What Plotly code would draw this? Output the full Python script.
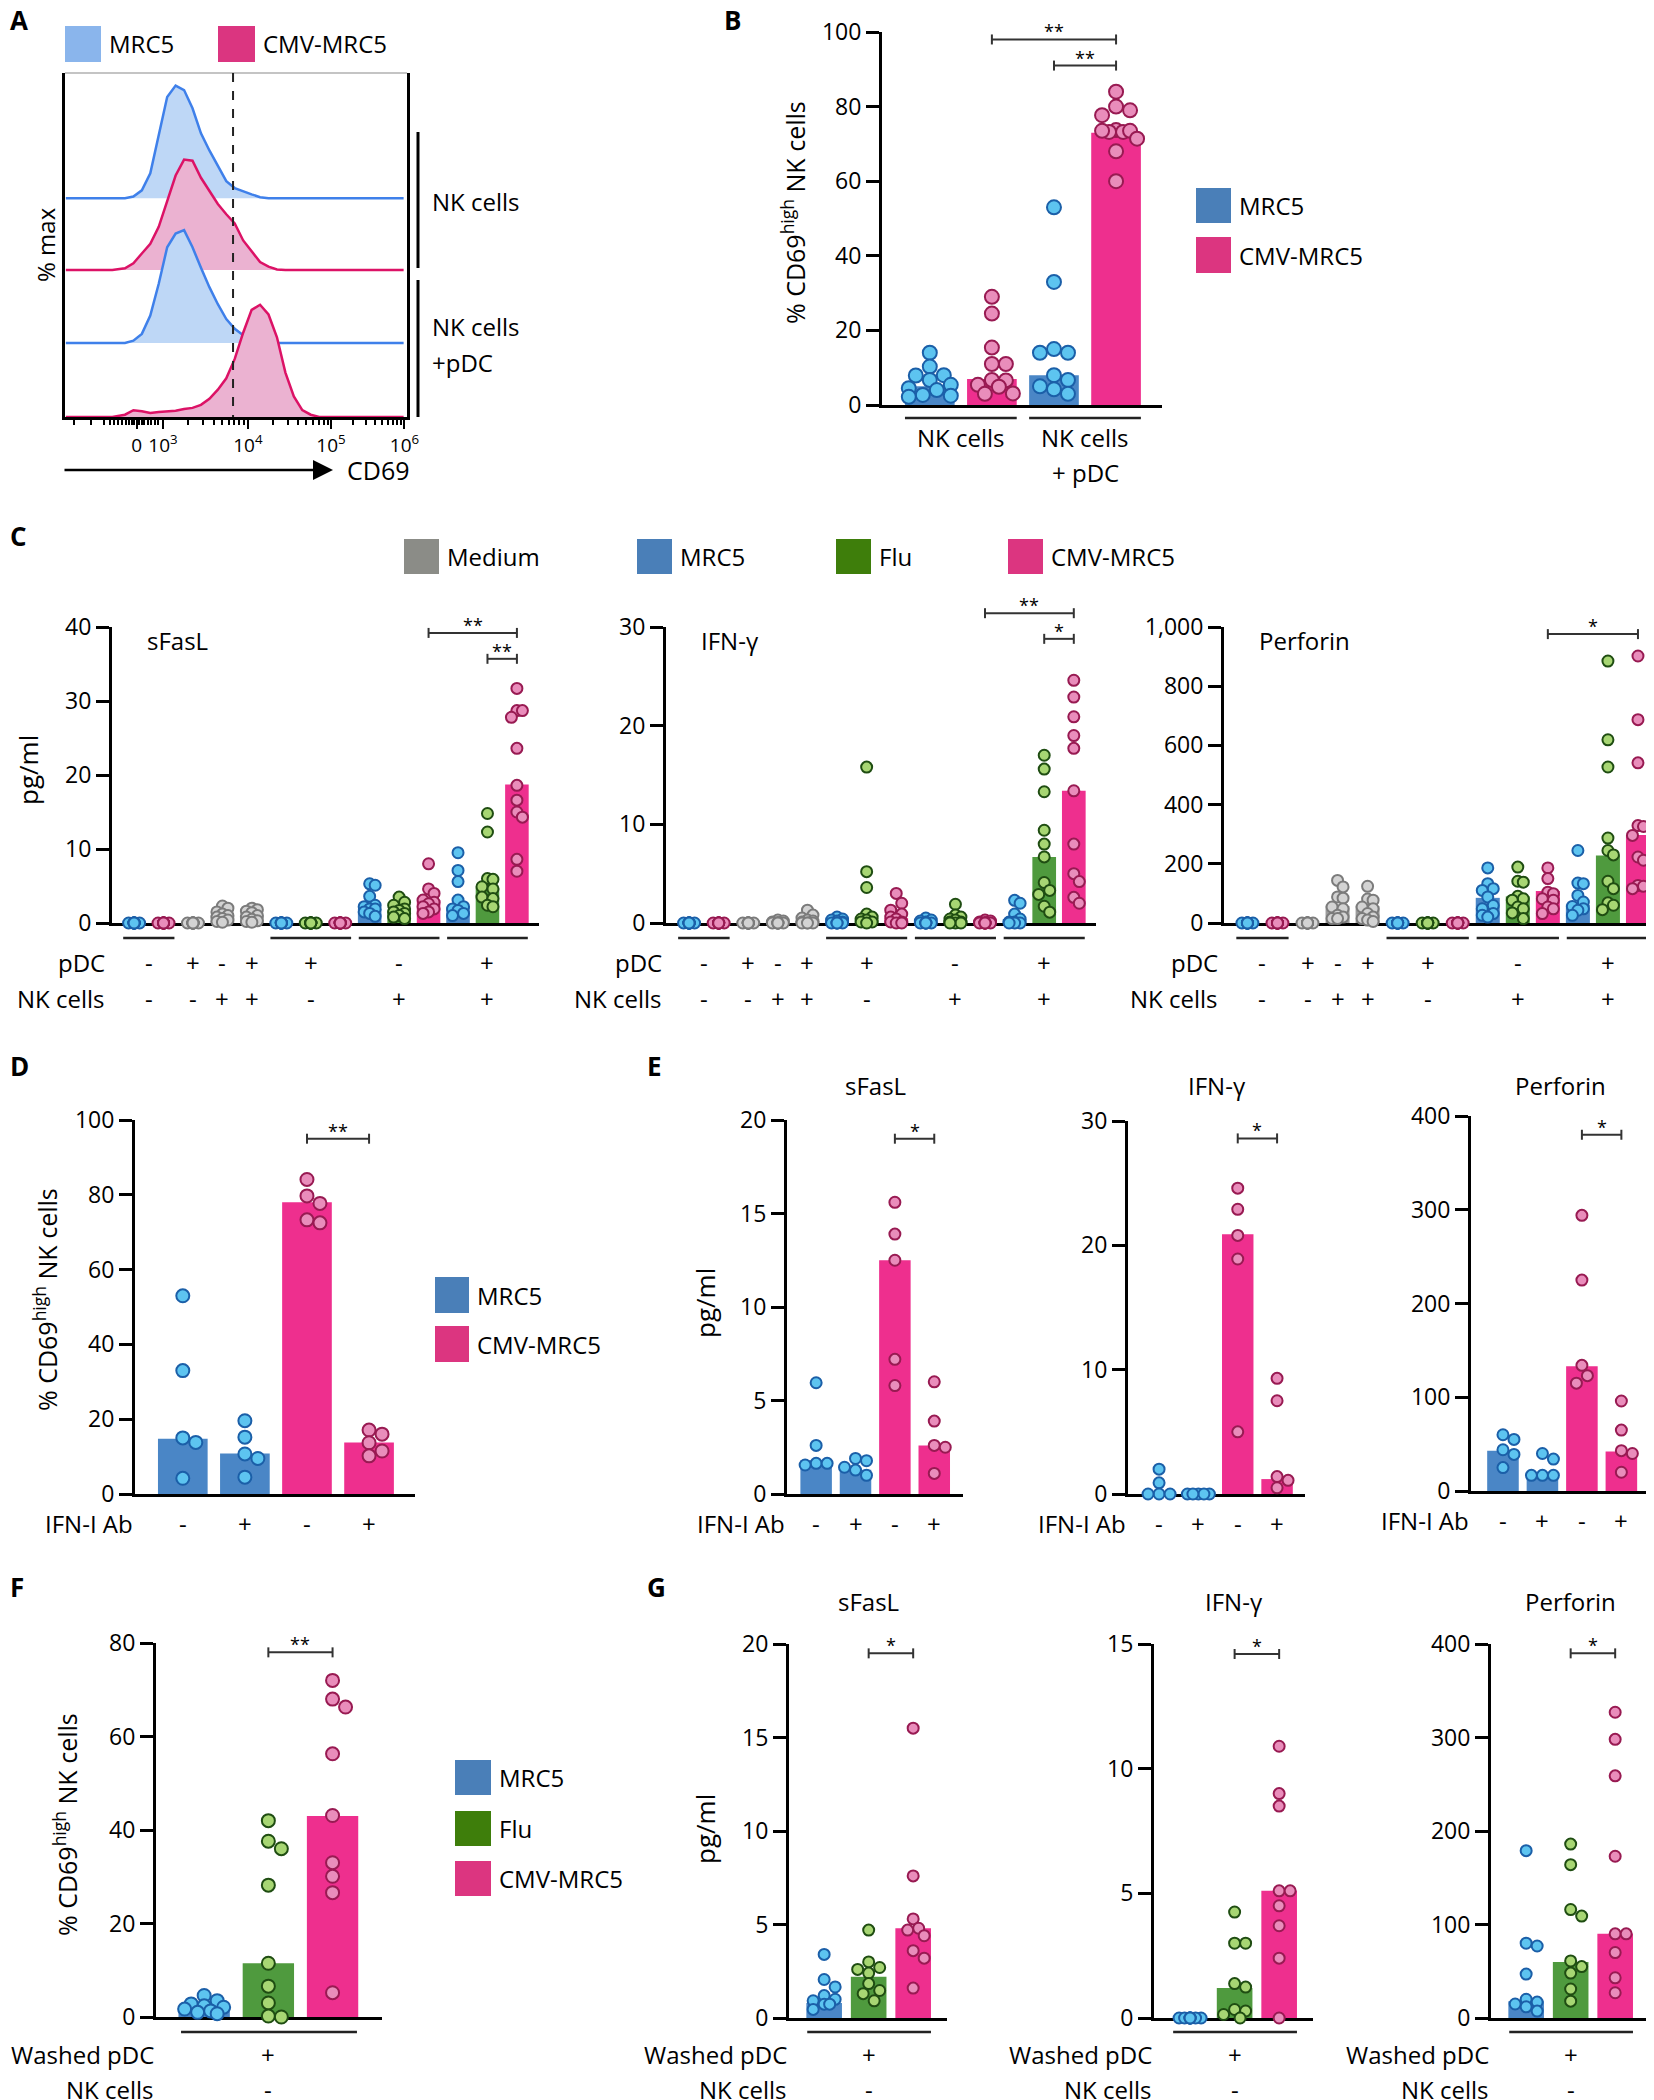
import math
import plotly.graph_objects as go

W, H = 1654, 2100
OX, OY = 8, 8          # page body margin: figure starts 8px in
FONT = "Open Sans"

# ---------------- data ----------------
# A: CD69 histograms (x in display decades: 3 -> 10^3), heights in % of max
a_x = [1.85, 2.4, 2.55, 2.65, 2.75, 2.85, 2.95, 3.05, 3.15, 3.25, 3.35, 3.45, 3.55, 3.65,
       3.75, 3.85, 3.95, 4.05, 4.15, 4.25, 4.35, 4.45, 4.55, 4.65, 4.75, 4.85, 5.0, 5.85]
a_nk_mrc5 = [0, 0, 0, 1.5, 7, 22, 57, 89, 99, 95, 79, 57, 42, 28, 15, 9, 6, 3.5, 1, 0, 0, 0, 0, 0, 0, 0, 0, 0]
a_nk_cmv = [0, 0, 1.5, 6, 14.5, 23, 38, 61, 83, 97, 96, 81, 70, 58, 49, 41, 26, 16, 7, 3, 0.5, 0, 0, 0, 0, 0, 0, 0]
a_pdc_mrc5 = [0, 0, 0, 2, 8, 24, 52, 84, 96, 99, 84, 66, 49, 34, 21, 12.5, 6.7, 2.3, 0, 0, 0, 0, 0, 0, 0, 0, 0, 0]
a_pdc_cmv = [0, 0, 2, 6, 5, 3.5, 4.3, 5, 5.5, 7, 8, 10.7, 16, 24, 34, 51, 74, 94, 98.5, 90, 70, 39, 18, 6, 2, 0, 0, 0]
a_tickvals = [2.69, 3, 4.006, 4.99, 5.86]
a_ticktext = ["0", "10<sup>3</sup>", "10<sup>4</sup>", "10<sup>5</sup>", "10<sup>6</sup>"]

# B: % CD69high NK cells
b_kinds = ["MRC5", "CMV-MRC5", "MRC5", "CMV-MRC5"]
b_bars = [5, 7, 8, 73]
b_pts = [
    [14, 10.3, 8, 7.9, 6.7, 5.4, 4.5, 4, 2.7, 2.2, 2.5],
    [29, 24.5, 15.4, 11, 11, 6.7, 6.6, 5.4, 4.9, 3.1, 3],
    [53, 33, 15, 14, 14, 8, 6.7, 5, 4.2, 3],
    [84, 80, 79, 77.7, 73.7, 73.2, 73.2, 73.5, 73.5, 71.4, 68, 60],
]

# C: cytokines, 14 conditions
c_kinds = ["MRC5", "CMV-MRC5", "Medium", "Medium", "Medium", "MRC5", "Flu", "CMV-MRC5",
           "MRC5", "Flu", "CMV-MRC5", "MRC5", "Flu", "CMV-MRC5"]
c_sign_pos = [0.5, 2, 3, 4, 6, 9, 12]
c_pdc_signs = ["-", "+", "-", "+", "+", "-", "+"]
c_nk_signs = ["-", "-", "+", "+", "-", "+", "+"]
c_sfasl_bars = [0, 0, 0, 1, 1, 0, 0, 0, 1.9, 1.8, 3.1, 2.2, 4.8, 18.7]
c_sfasl = [
    [0, 0, 0, 0, 0, 0, 0, 0, 0, 0],
    [0, 0, 0, 0, 0, 0, 0, 0, 0, 0],
    [0, 0, 0, 0, 0, 0, 0, 0, 0, 0],
    [2.3, 2.0, 1.5, 1.2, 1.0, 0.8, 0.6, 0.4, 0.2, 0.1],
    [2.0, 1.8, 1.6, 1.4, 1.0, 0.8, 0.5, 0.3, 0.2, 0.1],
    [0, 0, 0, 0, 0, 0, 0, 0, 0, 0],
    [0, 0, 0, 0, 0, 0, 0, 0, 0, 0],
    [0, 0, 0, 0, 0, 0, 0, 0, 0, 0],
    [5.3, 5.1, 3.6, 2.4, 2.2, 1.9, 1.9, 1.5, 1.3, 0.9],
    [3.5, 2.8, 2.4, 1.9, 1.7, 1.5, 1.3, 1.0, 0.8, 0.6],
    [8.0, 4.6, 4.0, 3.1, 2.8, 2.6, 2.2, 1.9, 1.5, 1.3],
    [9.5, 7.1, 5.6, 3.1, 2.2, 1.9, 1.7, 1.3, 1.0],
    [14.8, 12.3, 6.0, 5.9, 4.9, 4.6, 3.5, 3.3, 2.4, 2.2],
    [31.7, 28.7, 28.7, 27.8, 23.6, 18.6, 16.6, 15.0, 14.3, 8.6, 7.0],
]
c_ifng_bars = [0, 0, 0, 0, 0.2, 0.1, 0.5, 0.5, 0.1, 0.3, 0.1, 0.4, 6.7, 13.4]
c_ifng = [
    [0, 0, 0, 0, 0, 0, 0, 0, 0, 0],
    [0, 0, 0, 0, 0, 0, 0, 0, 0, 0],
    [0, 0, 0, 0, 0, 0, 0, 0, 0, 0],
    [0.3, 0.2, 0.1, 0, 0, 0, 0, 0, 0, 0],
    [1.3, 0.8, 0.5, 0.3, 0.2, 0.1, 0, 0, 0, 0],
    [0.6, 0.4, 0.3, 0.2, 0.1, 0, 0, 0, 0, 0],
    [15.8, 5.2, 3.6, 0.9, 0.6, 0.4, 0.3, 0.1, 0.1, 0],
    [3.0, 2.0, 1.3, 0.9, 0.6, 0.4, 0.1, 0.1, 0, 0],
    [0.5, 0.3, 0.2, 0.1, 0, 0, 0, 0, 0, 0],
    [1.9, 0.8, 0.6, 0.4, 0.3, 0.1, 0.1, 0, 0, 0],
    [0.3, 0.2, 0.1, 0, 0, 0, 0, 0, 0, 0],
    [2.3, 2.0, 0.9, 0.4, 0.1, 0.1, 0, 0, 0],
    [17.0, 15.6, 13.3, 9.4, 8.0, 6.7, 4.1, 3.3, 2.9, 1.7, 1.1],
    [24.6, 22.9, 20.9, 19.0, 17.7, 13.4, 8.0, 5.0, 4.2, 2.6, 2.0],
]
c_perf_bars = [0, 0, 0, 57, 57, 0, 0, 0, 85, 90, 108, 62, 228, 297]
c_perf = [
    [0, 0, 0, 0, 0, 0, 0, 0, 0, 0],
    [0, 0, 0, 0, 0, 0, 0, 0, 0, 0],
    [0, 0, 0, 0, 0, 0, 0, 0, 0, 0],
    [144, 122, 88, 84, 54, 48, 26, 20, 15, 15],
    [124, 81, 77, 54, 48, 32, 20, 15, 10, 5],
    [0, 0, 0, 0, 0, 0, 0, 0, 0, 0],
    [0, 0, 0, 0, 0, 0, 0, 0, 0, 0],
    [0, 0, 0, 0, 0, 0, 0, 0, 0, 0],
    [186, 133, 116, 110, 88, 59, 48, 32, 26, 20],
    [189, 141, 138, 90, 82, 77, 54, 48, 34, 15],
    [186, 150, 104, 99, 82, 77, 54, 48, 32],
    [245, 135, 133, 93, 71, 56, 48, 43, 26],
    [885, 619, 527, 287, 245, 230, 141, 116, 68, 60, 45],
    [902, 687, 541, 329, 326, 296, 223, 212, 127, 124, 116],
]

# D / E: IFN-I antibody blocking
de_kinds = ["MRC5", "MRC5", "CMV-MRC5", "CMV-MRC5"]
de_signs = ["-", "+", "-", "+"]
d_bars = [14.8, 10.8, 78, 13.8]
d_pts = [[53, 33, 15, 13.8, 4.2], [19.6, 15.2, 10.7, 9.5, 4.5],
         [84.1, 79.7, 77.7, 73.3, 72.5], [17.1, 16.0, 13.7, 11.5, 10.2]]
e_sfasl_bars = [1.8, 1.3, 12.5, 2.6]
e_sfasl = [[5.95, 2.6, 1.64, 1.64, 1.55], [1.9, 1.78, 1.43, 1.28, 1.0],
           [15.6, 13.9, 12.5, 7.2, 5.8], [6.0, 3.9, 2.6, 2.5, 1.1]]
e_ifng_bars = [0, 0, 20.9, 1.2]
e_ifng = [[2.0, 0.9, 0, 0, 0], [0, 0, 0, 0, 0],
          [24.6, 22.9, 20.8, 18.9, 5.0], [9.3, 7.5, 1.4, 1.1, 0.5]]
e_perf_bars = [43, 18, 133, 42]
e_perf = [[60, 55, 44, 39, 25], [40, 34, 16.7, 16.7, 16.7],
          [294, 225, 134, 123, 115], [96, 65, 43, 40, 20]]

# F / G: washed pDC
fg_kinds = ["MRC5", "Flu", "CMV-MRC5"]
f_bars = [1.8, 11.5, 43]
f_pts = [[4.6, 3.5, 2.8, 2.4, 2.1, 1.7, 1.3, 1.0, 0.7],
         [42, 37.6, 36, 28.2, 11.5, 6.6, 3.0, 0.2, 0],
         [72, 68, 66.3, 56.3, 43.1, 33, 30.1, 26.6, 5.2]]
g_sfasl_bars = [0.8, 2.2, 4.8]
g_sfasl = [[3.4, 2.06, 1.66, 1.2, 1.0, 0.92, 0.74, 0.74, 0.46],
           [4.7, 3.0, 2.7, 2.6, 2.4, 1.84, 1.47, 1.3, 0.92],
           [15.5, 7.6, 5.3, 4.8, 4.7, 4.4, 3.6, 3.2, 1.6]]
g_ifng_bars = [0, 1.2, 5.1]
g_ifng = [[0, 0, 0, 0, 0, 0, 0, 0, 0],
          [4.25, 3.0, 3.0, 1.38, 1.24, 0.34, 0.28, 0.14, 0],
          [10.9, 9.0, 8.5, 5.1, 5.1, 4.5, 3.7, 2.4, 0]]
g_perf_bars = [18, 60, 90]
g_perf = [[179, 80, 77, 47, 20, 17, 15, 12, 7.4],
          [186, 164, 116, 109, 61, 55, 48, 31, 18],
          [327, 298, 259, 173, 90, 90, 70, 43, 27]]

# ---------------- styles ----------------
bar_col = {"MRC5": "#4a86c6", "CMV-MRC5": "#ee2f8e", "Flu": "#4f9a3e", "Medium": "#9b9b9b"}
dot_col = {"MRC5": "#5dc4f0", "CMV-MRC5": "#e98dbb", "Flu": "#a7d673", "Medium": "#d3d3d3"}
edge_col = {"MRC5": "#1b5fa8", "CMV-MRC5": "#981a52", "Flu": "#1f4d12", "Medium": "#7b7b7b"}
key_col = {"MRC5": "#4a7fb8", "CMV-MRC5": "#dc3580", "Flu": "#3e7e0b", "Medium": "#8b8c87"}
hist_line = {"MRC5": "#3f80ea", "CMV-MRC5": "#dc1266"}
hist_fill = {"MRC5": "#bed7f6", "CMV-MRC5": "#ebb2d1"}

fig = go.Figure()
shapes, notes, boxes, axes = [], [], {}, {}


def fx(x):
    return min(1.0, max(0.0, (x - OX) / W))


def fy(y):
    return min(1.0, max(0.0, 1 - (y - OY) / H))


def ax_names(i):
    s = "" if i == 1 else str(i)
    return "x" + s, "y" + s


def add_axes(i, l, r, t, b, xr, yr, tickvals=None, ticktext=None):
    boxes[i] = (l, r, t, b, xr, yr)
    xa, ya = ax_names(i)
    axes["xaxis" + xa[1:]] = dict(domain=[fx(l), fx(r)], range=xr, anchor=ya, showline=True,
                                  linewidth=3, linecolor="black", showticklabels=False, ticks="",
                                  showgrid=False, zeroline=False, layer="below traces")
    axes["yaxis" + ya[1:]] = dict(domain=[fy(b), fy(t)], range=yr, anchor=xa, showline=True,
                                  linewidth=3, linecolor="black", ticks="outside", ticklen=13,
                                  tickwidth=3, tickcolor="black", tickvals=tickvals, ticktext=ticktext,
                                  tickfont=dict(size=23, family=FONT, color="black"),
                                  showgrid=False, zeroline=False)


def px(i, xv):
    l, r, t, b, xr, yr = boxes[i]
    return l + (xv - xr[0]) / (xr[1] - xr[0]) * (r - l)


def py(i, yv):
    l, r, t, b, xr, yr = boxes[i]
    return b - (yv - yr[0]) / (yr[1] - yr[0]) * (b - t)


def seg(x0, y0, x1, y1, w=2.5, color="#222", dash=None):
    shapes.append(dict(type="line", xref="paper", yref="paper", x0=fx(x0), x1=fx(x1),
                       y0=fy(y0), y1=fy(y1), line=dict(color=color, width=w, dash=dash)))


def text(x, y, s, size=23, xanchor="center", angle=0):
    notes.append(dict(xref="paper", yref="paper", x=(x - OX) / W, y=1 - (y - OY) / H, text=s,
                      showarrow=False, xanchor=xanchor, yanchor="middle", textangle=angle,
                      font=dict(size=size, family=FONT, color="black")))


def key(x0, y0, x1, y1, color, label):
    shapes.append(dict(type="rect", xref="paper", yref="paper", x0=fx(x0), x1=fx(x1),
                       y0=fy(y1), y1=fy(y0), fillcolor=color, line=dict(width=0)))
    text(x1 + 6, (y0 + y1) / 2, label, 24, "left")


def bracket(i, a, b, yv, label):
    x0, x1, y = px(i, a), px(i, b), py(i, yv)
    seg(x0, y, x1, y, 2, "#333")
    seg(x0, y - 5, x0, y + 5, 2, "#333")
    seg(x1, y - 5, x1, y + 5, 2, "#333")
    text((x0 + x1) / 2, y - 8, label, 18)


def swarm(vals, diam, ppy, half):
    step = diam * 0.5
    cands, k = [0.0], 1
    while k * step <= half + 0.01:
        cands += [k * step, -k * step]
        k += 1
    placed, offs = [], [0.0] * len(vals)
    for j in sorted(range(len(vals)), key=lambda n: -vals[n]):
        yv = vals[j] * ppy
        best, best_d = 0.0, -1.0
        for c in cands:
            d = min([math.hypot(c - a, yv - b) for a, b in placed], default=1e9)
            if d >= diam * 0.95:
                best = c
                break
            if d > best_d:
                best, best_d = c, d
        placed.append((best, yv))
        offs[j] = best
    return offs


def bars_and_dots(i, kinds, heights, groups, diam):
    xa, ya = ax_names(i)
    l, r, t, b, xr, yr = boxes[i]
    ppx = (r - l) / (xr[1] - xr[0])
    ppy = (b - t) / (yr[1] - yr[0])
    fig.add_trace(go.Bar(x=list(range(len(heights))), y=heights, width=0.8,
                         marker=dict(color=[bar_col[k] for k in kinds], line=dict(width=0)),
                         xaxis=xa, yaxis=ya, hoverinfo="skip"))
    for p, (k, vals) in enumerate(zip(kinds, groups)):
        offs = swarm(vals, diam, ppy, 0.34 * ppx)
        fig.add_trace(go.Scatter(x=[p + o / ppx for o in offs], y=vals, mode="markers",
                                 marker=dict(size=diam, color=dot_col[k],
                                             line=dict(color=edge_col[k], width=2)),
                                 cliponaxis=False, xaxis=xa, yaxis=ya, hoverinfo="skip"))


# ---------------- A ----------------
add_axes(1, 65, 407, 73, 417, [1.84, 5.89], [0, 302])
a_minor = [1.95, 2.15, 2.3, 2.37, 2.42, 2.47, 2.52, 2.56, 2.6, 2.63, 2.66, 2.72, 2.75, 2.78,
           2.82, 2.86, 2.9, 2.94]
for d in (3, 4):
    a_minor += [d + math.log10(k) for k in range(2, 10)]
a_minor += [4.99 + 0.87 * math.log10(k) for k in range(2, 10)]
axes["xaxis"].update(ticks="outside", ticklen=9, tickwidth=2, tickcolor="black", showticklabels=True,
                     tickvals=a_tickvals, ticktext=a_ticktext, layer="above traces",
                     tickfont=dict(size=19, family=FONT, color="black"),
                     minor=dict(tickmode="array", tickvals=a_minor, ticks="outside", ticklen=5,
                                tickwidth=1.5, tickcolor="black"))
axes["yaxis"].update(ticks="", showticklabels=False, mirror=True, tickvals=[])

a_curves = [(a_nk_mrc5, "MRC5"), (a_nk_cmv, "CMV-MRC5"), (a_pdc_mrc5, "MRC5"), (a_pdc_cmv, "CMV-MRC5")]
a_offsets = [192, 129, 65, 0]
for (h, k), off in zip(a_curves, a_offsets):
    fig.add_trace(go.Scatter(x=a_x, y=[v + off for v in h], mode="lines", fill="toself",
                             fillcolor=hist_fill[k], line=dict(color=hist_line[k], width=2.5),
                             xaxis="x", yaxis="y", hoverinfo="skip"))
seg(65, 73, 407, 73, 2, "#c4c4c4")
seg(px(1, 3.83), 73, px(1, 3.83), 417, 2, "#222", "dash")
seg(418, 132, 418, 268, 3, "black")
seg(418, 280, 418, 417, 3, "black")
text(430, 201, "NK cells", 24, "left")
text(430, 327, "NK cells", 24, "left")
text(430, 362, "+pDC", 24, "left")
text(45, 245, "% max", 24, angle=-90)
text(345, 470, "CD69", 25, "left")
notes.append(dict(xref="paper", yref="paper", x=(333 - OX) / W, y=1 - (470 - OY) / H, ax=-270, ay=0,
                  text="", showarrow=True, arrowhead=2, arrowsize=1.6, arrowwidth=2.5,
                  arrowcolor="black"))
key(65, 26, 101, 62, "#8ab5ec", "MRC5")
key(218, 26, 255, 62, "#db3580", "CMV-MRC5")

# ---------------- B ----------------
add_axes(2, 882, 1162, 32, 405, [-0.77, 3.74], [0, 100], [0, 20, 40, 60, 80, 100])
bars_and_dots(2, b_kinds, b_bars, b_pts, 14)
bracket(2, 1, 3, 98, "**")
bracket(2, 2, 3, 91, "**")
seg(px(2, -0.4), 418, px(2, 1.4), 418, 2.5)
seg(px(2, 1.6), 418, px(2, 3.4), 418, 2.5)
text(px(2, 0.5), 437, "NK cells", 24)
text(px(2, 2.5), 437, "NK cells", 24)
text(px(2, 2.5), 472, "+ pDC", 24)
text(794, 213, "% CD69<sup>high</sup> NK cells", 25, angle=-90)
key(1196, 188, 1231, 223, key_col["MRC5"], "MRC5")
key(1196, 237, 1231, 273, key_col["CMV-MRC5"], "CMV-MRC5")

# ---------------- C ----------------
c_panels = [
    (3, 112, 539, [-0.75, 13.75], [0, 40], [0, 10, 20, 30, 40], None, "sFasL", c_sfasl_bars, c_sfasl,
     [(10, 39.2, "**"), (12, 35.7, "**")], 107),
    (4, 666, 1096, [-0.78, 13.75], [0, 30], [0, 10, 20, 30], None, "IFN-γ", c_ifng_bars, c_ifng,
     [(10, 31.4, "**"), (12, 28.8, "*")], 664),
    (5, 1224, 1662, [-0.78, 13.8], [0, 1000], [0, 200, 400, 600, 800, 1000],
     ["0", "200", "400", "600", "800", "1,000"], "Perforin", c_perf_bars, c_perf, [(10, 976, "*")], 1220),
]
for i, l, r, xr, yr, tv, tt, name, hb, pts, brs, lab_x in c_panels:
    add_axes(i, l, r, 627, 923, xr, yr, tv, tt)
    bars_and_dots(i, c_kinds, hb, pts, 11)
    for a, yv, s in brs:
        bracket(i, a, 13, yv, s)
    for g0, g1 in [(0, 1), (5, 7), (8, 10), (11, 13)]:
        seg(px(i, g0 - 0.37), 938, px(i, g1 + 0.37), 938, 2.5)
    text(l + 33, 640, name, 24, "left")
    text(lab_x, 962, "pDC", 24, "right")
    text(lab_x, 998, "NK cells", 24, "right")
    for p, s1, s2 in zip(c_sign_pos, c_pdc_signs, c_nk_signs):
        text(px(i, p), 962, s1, 24)
        text(px(i, p), 998, s2, 24)
text(28, 770, "pg/ml", 26, angle=-90)
for x0, k in [(404, "Medium"), (637, "MRC5"), (836, "Flu"), (1008, "CMV-MRC5")]:
    key(x0, 539, x0 + 35, 574, key_col[k], k)

# ---------------- D ----------------
add_axes(6, 135, 415, 1120, 1494, [-0.77, 3.74], [0, 100], [0, 20, 40, 60, 80, 100])
bars_and_dots(6, de_kinds, d_bars, d_pts, 13)
bracket(6, 2, 3, 95, "**")
text(135, 1523, "IFN-I Ab", 24, "right")
for p, s in enumerate(de_signs):
    text(px(6, p), 1523, s, 24)
text(45, 1300, "% CD69<sup>high</sup> NK cells", 25, angle=-90)
key(435, 1277, 469, 1313, key_col["MRC5"], "MRC5")
key(435, 1326, 469, 1362, key_col["CMV-MRC5"], "CMV-MRC5")

# ---------------- E ----------------
e_panels = [
    (7, 787, 963, 1120, 1494, [-0.74, 3.73], [0, 20], [0, 5, 10, 15, 20], "sFasL", e_sfasl_bars, e_sfasl, 19.0, 1523),
    (8, 1128, 1305, 1121, 1494, [-0.79, 3.71], [0, 30], [0, 10, 20, 30], "IFN-γ", e_ifng_bars, e_ifng, 28.6, 1523),
    (9, 1471, 1649, 1116, 1491, [-0.81, 3.7], [0, 400], [0, 100, 200, 300, 400], "Perforin", e_perf_bars, e_perf, 380, 1520),
]
for i, l, r, t, b, xr, yr, tv, name, hb, pts, by, row_y in e_panels:
    add_axes(i, l, r, t, b, xr, yr, tv)
    bars_and_dots(i, de_kinds, hb, pts, 11)
    bracket(i, 2, 3, by, "*")
    text((l + r) / 2, 1085, name, 24)
    text(l, row_y, "IFN-I Ab", 24, "right")
    for p, s in enumerate(de_signs):
        text(px(i, p), row_y, s, 24)
text(705, 1303, "pg/ml", 26, angle=-90)

# ---------------- F ----------------
add_axes(10, 156, 382, 1643, 2017, [-0.75, 2.77], [0, 80], [0, 20, 40, 60, 80])
bars_and_dots(10, fg_kinds, f_bars, f_pts, 13)
bracket(10, 1, 2, 78, "**")
seg(px(10, -0.36), 2032, px(10, 2.38), 2032, 2.5)
text(156, 2054, "Washed pDC", 24, "right")
text(156, 2089, "NK cells", 24, "right")
text(px(10, 1), 2054, "+", 24)
text(px(10, 1), 2089, "-", 24)
text(65, 1825, "% CD69<sup>high</sup> NK cells", 25, angle=-90)
for y0, k in [(1760, "MRC5"), (1811, "Flu"), (1861, "CMV-MRC5")]:
    key(455, y0, 491, y0 + 35, key_col[k], k)

# ---------------- G ----------------
g_panels = [
    (11, 789, 947, [-0.79, 2.76], [0, 20], [0, 5, 10, 15, 20], "sFasL", g_sfasl_bars, g_sfasl, 19.5),
    (12, 1154, 1313, [-0.81, 2.76], [0, 15], [0, 5, 10, 15], "IFN-γ", g_ifng_bars, g_ifng, 14.6),
    (13, 1491, 1649, [-0.79, 2.76], [0, 400], [0, 100, 200, 300, 400], "Perforin", g_perf_bars, g_perf, 390),
]
for i, l, r, xr, yr, tv, name, hb, pts, by in g_panels:
    add_axes(i, l, r, 1644, 2018, xr, yr, tv)
    bars_and_dots(i, fg_kinds, hb, pts, 11)
    bracket(i, 1, 2, by, "*")
    seg(px(i, -0.38), 2032, px(i, 2.4), 2032, 2.5)
    text((l + r) / 2, 1601, name, 24)
    text(l, 2054, "Washed pDC", 24, "right")
    text(l, 2089, "NK cells", 24, "right")
    text(px(i, 1), 2054, "+", 24)
    text(px(i, 1), 2089, "-", 24)
text(705, 1829, "pg/ml", 26, angle=-90)

# ---------------- panel letters ----------------
for s, x, y in [("A", 8, 20), ("B", 722, 20), ("C", 8, 536), ("D", 8, 1066),
                ("E", 645, 1066), ("F", 8, 1587), ("G", 645, 1587)]:
    text(x, y, "<b>" + s + "</b>", 26, "left")

fig.update_layout(**axes)
fig.update_layout(width=W, height=H, autosize=False,
                  margin=dict(l=0, r=0, t=0, b=0, pad=0, autoexpand=False),
                  paper_bgcolor="white", plot_bgcolor="white", showlegend=False,
                  font=dict(family=FONT, color="black"), shapes=shapes, annotations=notes)
fig.write_html("out.html")
